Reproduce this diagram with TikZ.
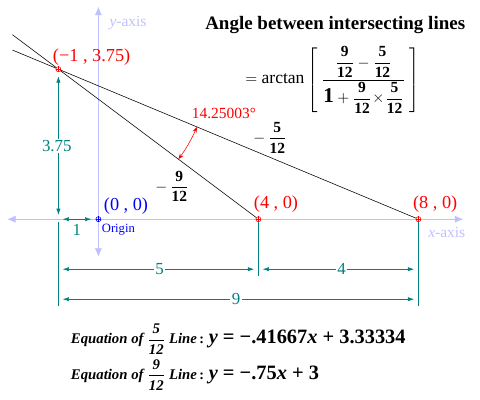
\documentclass[tikz,border=0pt]{standalone}
\usepackage{amsmath}
\usepackage{fontspec}
\setmainfont{Liberation Serif}
\usetikzlibrary{arrows.meta,calc}
\definecolor{axisblue}{RGB}{192,192,255}
\definecolor{dimteal}{RGB}{0,128,128}
\newcommand{\slfrac}[2]{\dfrac{\text{#1}}{\text{#2}}}
\tikzset{
  axisline/.style={axisblue, {Latex[length=6pt,width=5pt]}-{Latex[length=6pt,width=5pt]}},
  dimline/.style={dimteal, {Latex[length=4.5pt,width=3pt]}-{Latex[length=4.5pt,width=3pt]}, shorten <=3pt, shorten >=3pt},
  extline/.style={dimteal},
  ptmark/.style={circle, draw=#1, fill=white, inner sep=0pt, minimum size=3.6pt},
  dimlabel/.style={dimteal, fill=white, inner sep=1pt, font=\fontsize{12}{14}\selectfont},
  ptlabel/.style={font=\fontsize{13}{15}\selectfont},
}
\begin{document}
\begin{tikzpicture}
	\useasboundingbox (-2.46,-4.52) rectangle (9.54,5.48);
	% axes
	\coordinate (yb) at (0,-0.94);
	\coordinate (yt) at (0,5.31);
	\coordinate (xl) at (-2.28,0);
	\coordinate (xr) at (9.12,0);
	\draw[axisline] (yb) -- (yt);
	\draw[axisline] (xl) -- (xr);
	\node[axisblue, font=\fontsize{11}{13}\selectfont] (ylab) at (0.74,4.91) {\textit{y}-axis};
	\node[axisblue, font=\fontsize{11}{13}\selectfont] (xlab) at (8.71,-0.33) {\textit{x}-axis};
	% the two lines
	\coordinate (L1) at (-2.15,4.229);
	\coordinate (L2) at (-2.15,4.6125);
	\node[ptmark=red] (P) at (-1,3.75) {};
	\node[ptmark=blue] (O) at (0,0) {};
	\node[ptmark=red] (B) at (4,0) {};
	\node[ptmark=red] (C) at (8,0) {};
	\draw (L1) -- (P) -- (C);
	\draw (L2) -- (P) -- (B);
	\draw[red] (P.west) -- (P.east) (P.north) -- (P.south);
	\draw[blue] (O.west) -- (O.east) (O.north) -- (O.south);
	\draw[red] (B.west) -- (B.east) (B.north) -- (B.south);
	\draw[red] (C.west) -- (C.east) (C.north) -- (C.south);
	\node[ptlabel,red] (Plab) at (-0.17,4.05) {(−1 , 3.75)};
	\node[ptlabel,blue] (Olab) at (0.69,0.33) {(0 , 0)};
	\node[blue, font=\fontsize{9}{11}\selectfont] (orig) at (0.5,-0.25) {Origin};
	\node[ptlabel,red] (Blab) at (4.44,0.375) {(4 , 0)};
	\node[ptlabel,red] (Clab) at (8.42,0.38) {(8 , 0)};
	% angle between the lines
	\draw[red, {Stealth[length=4pt,width=3pt]}-{Stealth[length=4pt,width=3pt]}]
	  ($(P)+(-22.62:3.75)$) arc[start angle=-22.62, end angle=-36.87, radius=3.75];
	\node[red, font=\fontsize{11}{13}\selectfont] (ang) at (3.14,2.65) {14.25003°};
	\node[font=\fontsize{11}{13}\selectfont\bfseries] (s1) at (4.29,2.04) {$-\,\slfrac{5}{12}$};
	\node[font=\fontsize{11}{13}\selectfont\bfseries] (s2) at (1.84,0.82) {$-\,\slfrac{9}{12}$};
	% dimensions
	\coordinate (Px) at (-1,0);
	\coordinate (Pd) at (-1,-2.18);
	\coordinate (Bd) at (4,-1.43);
	\coordinate (Cd) at (8,-2.18);
	\coordinate (P5) at (-1,-1.25);
	\coordinate (B5) at (4,-1.25);
	\coordinate (C4) at (8,-1.25);
	\coordinate (P9) at (-1,-2);
	\coordinate (C9) at (8,-2);
	\draw[extline, shorten <=2pt] (Px) -- (Pd);
	\draw[extline] (B) -- (Bd);
	\draw[extline] (C) -- (Cd);
	\draw[dimline] (P) -- (Px);
	\draw[dimline] (Px) -- (O);
	\draw[dimline] (P5) -- (B5);
	\draw[dimline] (B5) -- (C4);
	\draw[dimline] (P9) -- (C9);
	\node[dimlabel] (d375) at (-1.04,1.83) {3.75};
	\node[dimteal, font=\fontsize{12}{14}\selectfont] (d1) at (-0.54,-0.27) {1};
	\node[dimlabel] (d5) at (1.53,-1.25) {5};
	\node[dimlabel] (d4) at (6.08,-1.25) {4};
	\node[dimlabel] (d9) at (3.44,-2) {9};
	% formula
	\node[font=\fontsize{13.5}{16}\selectfont\bfseries] (title) at (5.92,4.86) {Angle between intersecting lines};
	\node[font=\fontsize{11}{13}\selectfont\bfseries] (form) at (5.86,3.48)
	  {$= \text{\mdseries\fontsize{12.5}{15}\selectfont arctan}\left[\;\dfrac{\slfrac{9}{12}-\slfrac{5}{12}}{\text{\fontsize{15}{17}\selectfont 1}+\slfrac{9}{12}\!\times\!\slfrac{5}{12}}\;\right]$};
	% equations of the lines
	\node[anchor=west, font=\bfseries] (eq1) at (-0.81,-3) {{\fontsize{10.5}{12}\selectfont\itshape Equation of $\slfrac{5}{12}$ Line\,}:
	  {\fontsize{14.5}{17}\selectfont\textit{y} = −.41667\textit{x} + 3.33334}};
	\node[anchor=west, font=\bfseries] (eq2) at (-0.81,-3.89) {{\fontsize{10.5}{12}\selectfont\itshape Equation of $\slfrac{9}{12}$ Line\,}:
	  {\fontsize{14.5}{17}\selectfont\textit{y} = −.75\textit{x} + 3}};
\end{tikzpicture}
\end{document}
